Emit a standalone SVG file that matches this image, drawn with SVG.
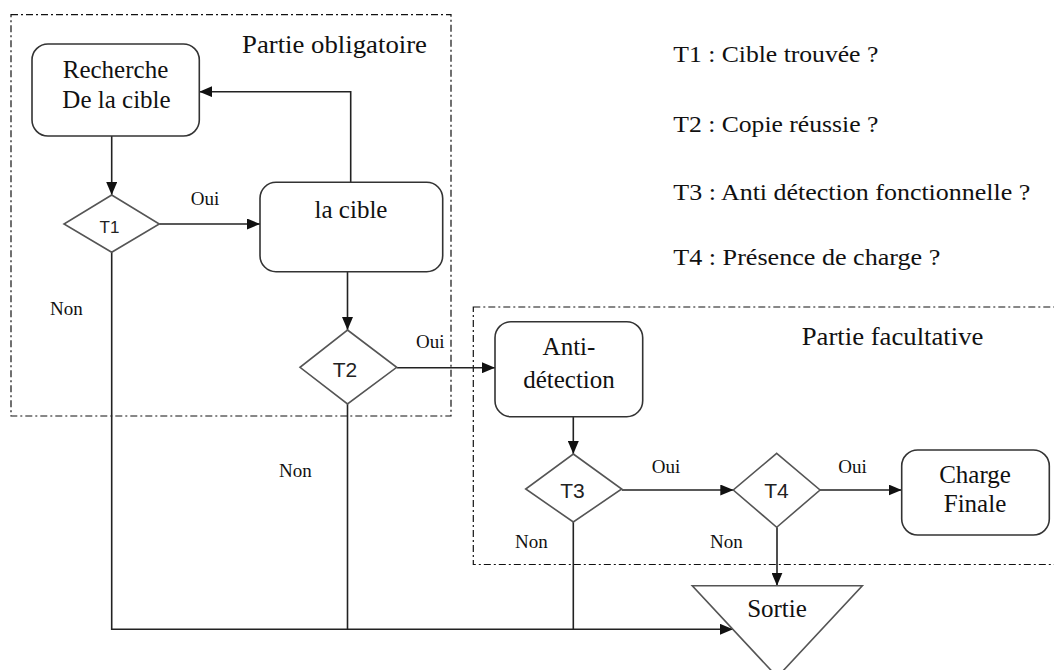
<svg xmlns="http://www.w3.org/2000/svg" width="1054" height="670" viewBox="0 0 1054 670">
<style>
  .bg { fill: #ffffff; }
  .zone { fill: none; stroke: #111; stroke-width: 1.2; stroke-dasharray: 7 3 2 3; }
  .box { fill: #fff; stroke: #333; stroke-width: 1.6; }
  .dia { fill: #fff; stroke: #555; stroke-width: 1.6; }
  .conn { fill: none; stroke: #222; stroke-width: 1.6; }
  .serif { font-family: "Liberation Serif", "Times New Roman", serif; fill: #111; }
  .t25 { font-size: 25px; }
  .t24 { font-size: 24px; }
  .lbl { font-size: 19px; }
  .sans { font-family: "Liberation Sans", Arial, sans-serif; fill: #222; }
  .mid { text-anchor: middle; }
</style>
<defs>
  <marker id="arr" viewBox="0 0 13 11" refX="13" refY="5.5" markerUnits="userSpaceOnUse" markerWidth="13" markerHeight="11" orient="auto">
    <path d="M0,0 L13,5.5 L0,11 z" fill="#111"/>
  </marker>
</defs>
<rect class="bg" x="0" y="0" width="1054" height="670"/>

<g id="zones">
  <rect class="zone" x="11" y="14.7" width="440" height="401.3"/>
  <text class="serif t25" x="242" y="53" textLength="185" lengthAdjust="spacingAndGlyphs">Partie  obligatoire</text>
  <rect class="zone" x="473.3" y="307" width="600" height="257.5"/>
  <text class="serif t25" x="801.7" y="345" textLength="181.7" lengthAdjust="spacingAndGlyphs">Partie  facultative</text>
</g>

<g id="legend">
  <text class="serif t24" x="673.3" y="61.7" textLength="205" lengthAdjust="spacingAndGlyphs">T1 : Cible trouvée ?</text>
  <text class="serif t24" x="673.3" y="131.7" textLength="205" lengthAdjust="spacingAndGlyphs">T2 : Copie réussie ?</text>
  <text class="serif t24" x="673.3" y="200" textLength="357" lengthAdjust="spacingAndGlyphs">T3 : Anti détection fonctionnelle  ?</text>
  <text class="serif t24" x="673.3" y="265" textLength="267" lengthAdjust="spacingAndGlyphs">T4 : Présence de charge ?</text>
</g>

<g id="connectors">
  <path class="conn" d="M111.7,136 V195" marker-end="url(#arr)"/>
  <path class="conn" d="M159.3,224 H260" marker-end="url(#arr)"/>
  <path class="conn" d="M350.7,182.3 V91.7 H199.3" marker-end="url(#arr)"/>
  <path class="conn" d="M347.5,271.7 V330" marker-end="url(#arr)"/>
  <path class="conn" d="M396.7,367.7 H495" marker-end="url(#arr)"/>
  <path class="conn" d="M573.3,416.7 V454" marker-end="url(#arr)"/>
  <path class="conn" d="M621.7,490 H733.3" marker-end="url(#arr)"/>
  <path class="conn" d="M820,490 H901.7" marker-end="url(#arr)"/>
  <path class="conn" d="M777,527.3 V585.7" marker-end="url(#arr)"/>
  <path class="conn" d="M111.7,252.3 V629.3 H733" marker-end="url(#arr)"/>
  <path class="conn" d="M347.5,404 V629.3"/>
  <path class="conn" d="M573.3,522 V629.3"/>
  <text class="serif lbl" x="190.7" y="205">Oui</text>
  <text class="serif lbl" x="416" y="347.7">Oui</text>
  <text class="serif lbl" x="651.7" y="473.3">Oui</text>
  <text class="serif lbl" x="838.3" y="473.3">Oui</text>
  <text class="serif lbl" x="50" y="315">Non</text>
  <text class="serif lbl" x="279" y="477.3">Non</text>
  <text class="serif lbl" x="515" y="548.3">Non</text>
  <text class="serif lbl" x="710" y="548">Non</text>
</g>

<g id="recherche">
  <rect class="box" x="32" y="44" width="167.3" height="92" rx="16"/>
  <text class="serif t25 mid" x="115.5" y="78">Recherche</text>
  <text class="serif t25 mid" x="116.5" y="108">De la cible</text>
</g>

<g id="t1">
  <polygon class="dia" points="111.7,195 159.3,224 111.7,252.3 64,224"/>
  <text class="sans mid" x="109.5" y="233.3" font-size="17">T1</text>
</g>

<g id="lacible">
  <rect class="box" x="260" y="182.3" width="182.7" height="89.4" rx="16"/>
  <text class="serif t25 mid" x="351" y="218">la cible</text>
</g>

<g id="t2">
  <polygon class="dia" points="347.5,330 396.7,367.3 347.5,404 300,367.3"/>
  <text class="sans mid" x="345" y="376.7" font-size="21">T2</text>
</g>

<g id="antidetection">
  <rect class="box" x="495" y="321.7" width="147.7" height="95" rx="16"/>
  <text class="serif t25 mid" x="569" y="355">Anti-</text>
  <text class="serif t25 mid" x="569" y="388.3">détection</text>
</g>

<g id="t3">
  <polygon class="dia" points="573.3,454 621.7,489 573.3,522 525.7,489"/>
  <text class="sans mid" x="572.5" y="498.3" font-size="21">T3</text>
</g>

<g id="t4">
  <polygon class="dia" points="776.7,453.3 820,490 776.7,527.3 733.3,490"/>
  <text class="sans mid" x="776.5" y="498.3" font-size="21">T4</text>
</g>

<g id="chargefinale">
  <rect class="box" x="901.7" y="450" width="147.6" height="85" rx="16"/>
  <text class="serif t25 mid" x="975" y="482.7">Charge</text>
  <text class="serif t25 mid" x="975" y="511.7">Finale</text>
</g>

<g id="sortie">
  <polygon class="dia" points="692.3,585.7 862.3,585.7 777.3,677"/>
  <text class="serif t25 mid" x="777" y="616.7">Sortie</text>
</g>
</svg>
